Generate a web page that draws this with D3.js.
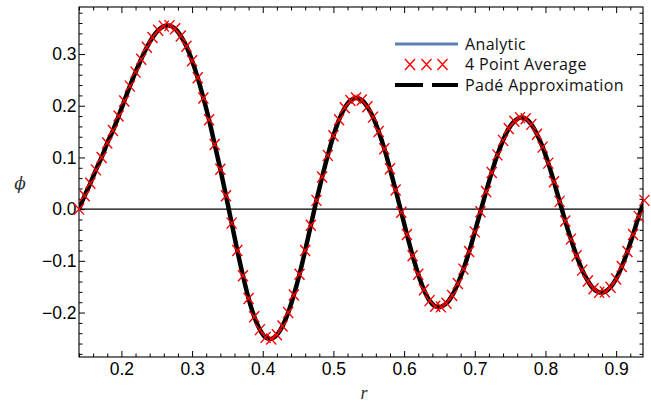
<!DOCTYPE html>
<html>
<head>
<meta charset="utf-8">
<script src="https://cdn.jsdelivr.net/npm/d3@7"></script>
<style>
  html, body { margin: 0; padding: 0; background: #fff; overflow: hidden; }
  svg { display: block; }
</style>
</head>
<body>
<div id="chart"></div>
<script>
// size of the svg
const width = 651; const height = 410;
const margin = {top: 7, right: 8, bottom: 53, left: 79};
const innerWidth = width - margin.left - margin.right;
const innerHeight = height - margin.top - margin.bottom;

// sample points (r), step 0.008
const rValues = [
  0.140, 0.148, 0.156, 0.164, 0.172, 0.180, 0.188, 0.196, 0.204, 0.212,
  0.220, 0.228, 0.236, 0.244, 0.252, 0.260, 0.268, 0.276, 0.284, 0.292,
  0.300, 0.308, 0.316, 0.324, 0.332, 0.340, 0.348, 0.356, 0.364, 0.372,
  0.380, 0.388, 0.396, 0.404, 0.412, 0.420, 0.428, 0.436, 0.444, 0.452,
  0.460, 0.468, 0.476, 0.484, 0.492, 0.500, 0.508, 0.516, 0.524, 0.532,
  0.540, 0.548, 0.556, 0.564, 0.572, 0.580, 0.588, 0.596, 0.604, 0.612,
  0.620, 0.628, 0.636, 0.644, 0.652, 0.660, 0.668, 0.676, 0.684, 0.692,
  0.700, 0.708, 0.716, 0.724, 0.732, 0.740, 0.748, 0.756, 0.764, 0.772,
  0.780, 0.788, 0.796, 0.804, 0.812, 0.820, 0.828, 0.836, 0.844, 0.852,
  0.860, 0.868, 0.876, 0.884, 0.892, 0.900, 0.908, 0.916, 0.924, 0.932,
  0.940
];
// phi at those points (analytic, 4 point average and Pade all coincide)
const phiValues = [
  0.000, 0.026, 0.050, 0.076, 0.100, 0.128, 0.152, 0.180, 0.209, 0.238,
  0.265, 0.290, 0.313, 0.332, 0.346, 0.354, 0.355, 0.349, 0.335, 0.315,
  0.287, 0.254, 0.215, 0.173, 0.125, 0.077, 0.026, -0.027, -0.080, -0.129,
  -0.173, -0.208, -0.233, -0.248, -0.251, -0.243, -0.226, -0.200, -0.166, -0.126,
  -0.080, -0.031, 0.017, 0.062, 0.104, 0.142, 0.173, 0.196, 0.210, 0.215,
  0.211, 0.198, 0.178, 0.150, 0.117, 0.078, 0.037, -0.006, -0.049, -0.090,
  -0.126, -0.156, -0.177, -0.188, -0.189, -0.182, -0.167, -0.144, -0.116, -0.082,
  -0.044, -0.005, 0.034, 0.071, 0.105, 0.133, 0.156, 0.170, 0.177, 0.175,
  0.164, 0.145, 0.120, 0.089, 0.053, 0.015, -0.023, -0.058, -0.090, -0.118,
  -0.139, -0.154, -0.161, -0.160, -0.151, -0.135, -0.111, -0.082, -0.049, -0.014,
  0.017
];

const xTicks = [0.2, 0.3, 0.4, 0.5, 0.6, 0.7, 0.8, 0.9];
const xTickLabels = ["0.2", "0.3", "0.4", "0.5", "0.6", "0.7", "0.8", "0.9"];
const yTicks = [-0.2, -0.1, 0.0, 0.1, 0.2, 0.3];
const yTickLabels = ["\u22120.2", "\u22120.1", "0.0", "0.1", "0.2", "0.3"];
const seriesNames = ["Analytic", "4 Point Average", "Pad\u00e9 Approximation"];

const data = rValues.map((r, i) => ({r: r, phi: phiValues[i]}));

const svg = d3.select("#chart")
  .append("svg")
    .attr("width", width)
    .attr("height", height)
    .style("font-family", "'Liberation Sans', Arial, sans-serif");

const plotG = svg.append("g")
  .attr("transform", `translate(${margin.left}, ${margin.top})`);

const x = d3.scaleLinear().domain([0.14, 0.938]).range([0, innerWidth]);
const y = d3.scaleLinear().domain([-0.286, 0.391]).range([innerHeight, 0]);

// clip so curves stay in the frame
plotG.append("clipPath").attr("id", "clip")
  .append("rect").attr("width", innerWidth).attr("height", innerHeight);

// minor ticks every 0.02
const xMinor = d3.range(0.14, 0.94, 0.02).map(d => +d.toFixed(2))
  .filter(d => !xTicks.some(t => Math.abs(t - d) < 1e-6));
const yMinor = d3.range(-0.28, 0.39, 0.02).map(d => +d.toFixed(2))
  .filter(d => !yTicks.some(t => Math.abs(t - d) < 1e-6));

function addAxis(axisFn, scale, ticks, labels, size, transform, pad) {
  const g = plotG.append("g")
    .attr("transform", transform)
    .call(axisFn(scale)
      .tickValues(ticks)
      .tickFormat(labels ? (d, i) => labels[i] : "")
      .tickSizeInner(-size)
      .tickSizeOuter(0)
      .tickPadding(pad));
  g.select(".domain").remove();
  g.selectAll("line").attr("stroke", "#000").attr("stroke-width", 1);
  if (labels) {
    g.selectAll("text").attr("font-size", "17.5px").attr("fill", "#000")
      .attr("font-family", "'Liberation Sans', Arial, sans-serif");
  } else {
    // no labels on this side
    g.selectAll("text").remove();
  }
  return g;
}

// major and minor ticks on all four sides (pointing inwards)
addAxis(d3.axisBottom, x, xTicks, xTickLabels, 6, `translate(0,${innerHeight})`, 6);
addAxis(d3.axisBottom, x, xMinor, null, 3.5, `translate(0,${innerHeight})`, 0);
addAxis(d3.axisTop, x, xTicks, null, 6, "translate(0,0)", 0);
addAxis(d3.axisTop, x, xMinor, null, 3.5, "translate(0,0)", 0);
addAxis(d3.axisLeft, y, yTicks, yTickLabels, 6, "translate(0,0)", 2.5);
addAxis(d3.axisLeft, y, yMinor, null, 3.5, "translate(0,0)", 0);
addAxis(d3.axisRight, y, yTicks, null, 6, `translate(${innerWidth},0)`, 0);
addAxis(d3.axisRight, y, yMinor, null, 3.5, `translate(${innerWidth},0)`, 0);

// frame
plotG.append("rect")
  .attr("width", innerWidth)
  .attr("height", innerHeight)
  .attr("fill", "none")
  .attr("stroke", "#000")
  .attr("stroke-width", 1.1);

// zero line
plotG.append("line")
  .attr("x1", 0).attr("x2", innerWidth)
  .attr("y1", y(0)).attr("y2", y(0))
  .attr("stroke", "#000")
  .attr("stroke-width", 1.1);

const line = d3.line()
  .x(d => x(d.r))
  .y(d => y(d.phi))
  .curve(d3.curveCatmullRom);

const curves = plotG.append("g").attr("clip-path", "url(#clip)");

// analytic (blue) under the Pade curve
curves.append("path")
  .datum(data)
  .attr("d", line)
  .attr("fill", "none")
  .attr("stroke", "#5e81b5")
  .attr("stroke-width", 3);

// Pade approximation
curves.append("path")
  .datum(data)
  .attr("d", line)
  .attr("fill", "none")
  .attr("stroke", "#000")
  .attr("stroke-width", 4.5);

// 4 point average markers
const crossPath = "M-5,-5.5L5,5.5M-5,5.5L5,-5.5";
plotG.append("g")
  .selectAll("path")
  .data(data)
  .enter().append("path")
    .attr("transform", d => `translate(${x(d.r)},${y(d.phi)})`)
    .attr("d", crossPath)
    .attr("fill", "none")
    .attr("stroke", "#ff0000")
    .attr("stroke-width", 1.4);

// axis labels
svg.append("text")
  .attr("x", 20).attr("y", 189)
  .attr("text-anchor", "middle")
  .attr("font-family", "'DejaVu Serif', serif")
  .attr("font-style", "italic")
  .attr("font-size", "17px")
  .attr("fill", "#333")
  .text("\u03d5");

svg.append("text")
  .attr("x", 364).attr("y", 399)
  .attr("text-anchor", "middle")
  .attr("font-family", "'Liberation Serif', serif")
  .attr("font-style", "italic")
  .attr("font-size", "18px")
  .attr("fill", "#333")
  .text("r");

// legend
const legend = svg.append("g").attr("transform", "translate(395, 0)");
const rowY = [44, 64.5, 85];

legend.append("line")
  .attr("x1", 0).attr("x2", 63)
  .attr("y1", rowY[0]).attr("y2", rowY[0])
  .attr("stroke", "#5e81b5").attr("stroke-width", 3);

legend.selectAll(".lx")
  .data([15, 31.5, 47.5])
  .enter().append("path")
    .attr("class", "lx")
    .attr("transform", d => `translate(${d},${rowY[1]})`)
    .attr("d", crossPath)
    .attr("fill", "none")
    .attr("stroke", "#ff0000")
    .attr("stroke-width", 1.4);

legend.append("line")
  .attr("x1", 0).attr("x2", 63)
  .attr("y1", rowY[2]).attr("y2", rowY[2])
  .attr("stroke", "#000").attr("stroke-width", 4)
  .attr("stroke-dasharray", "28,9");

legend.selectAll(".lt")
  .data(seriesNames)
  .enter().append("text")
    .attr("class", "lt")
    .attr("x", 70)
    .attr("y", (d, i) => rowY[i])
    .attr("dy", "0.36em")
    .attr("font-family", "'Open Sans', sans-serif")
    .attr("font-size", "16px")
    .attr("letter-spacing", "0.35px")
    .attr("fill", "#111")
    .text(d => d);
</script>
</body>
</html>
